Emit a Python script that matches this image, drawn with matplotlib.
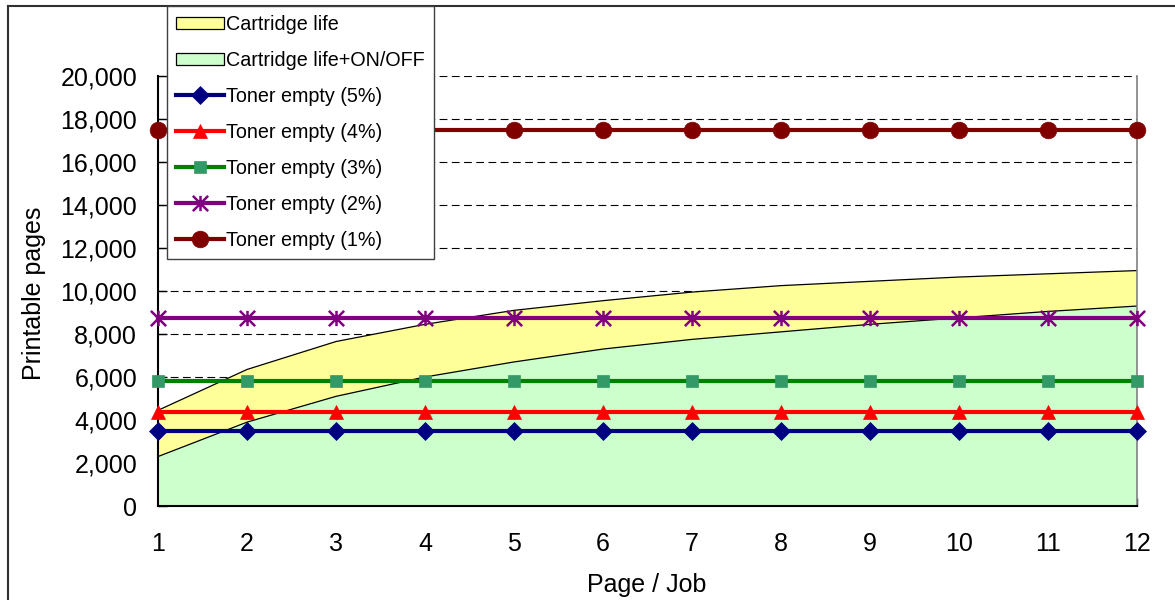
import matplotlib
matplotlib.use("Agg")
import matplotlib.pyplot as plt
from matplotlib.patches import Patch
from matplotlib.lines import Line2D
from matplotlib.path import Path
from matplotlib.ticker import FuncFormatter

plt.rcParams['font.family'] = ['Liberation Sans', 'DejaVu Sans']

# ---- data ----
pages = [1, 2, 3, 4, 5, 6, 7, 8, 9, 10, 11, 12]
cartridge_life = [4450, 6350, 7650, 8450, 9100, 9550, 9950, 10250, 10450, 10650, 10800, 10950]
cartridge_life_onoff = [2300, 3900, 5100, 6000, 6700, 7300, 7750, 8100, 8450, 8750, 9050, 9300]
toner_5 = [3500] * 12
toner_4 = [4350] * 12
toner_3 = [5800] * 12
toner_2 = [8750] * 12
toner_1 = [17500] * 12
y_ticks = [0, 2000, 4000, 6000, 8000, 10000, 12000, 14000, 16000, 18000, 20000]

W, H = 1175, 600
fig = plt.figure(figsize=(W / 100, H / 100), dpi=100)
L, R, T, B = 158, 1137, 76, 506
ax = fig.add_axes([L / W, 1 - B / H, (R - L) / W, (B - T) / H])

# chart-area border (extends past image edges)
fig.add_artist(Line2D([8 / W, 1.0], [1 - 6 / H, 1 - 6 / H], transform=fig.transFigure,
                      color='#303030', lw=1.5))
fig.add_artist(Line2D([8 / W, 8 / W], [1 - 6 / H, 0.0], transform=fig.transFigure,
                      color='#303030', lw=1.5))

# areas
ax.fill_between(pages, 0, cartridge_life, facecolor='#FFFF99', edgecolor='none', zorder=1)
ax.plot(pages, cartridge_life, color='black', lw=0.9, zorder=1.1)
ax.fill_between(pages, 0, cartridge_life_onoff, facecolor='#CCFFCC', edgecolor='none', zorder=1.2)
ax.plot(pages, cartridge_life_onoff, color='black', lw=0.9, zorder=1.3)

# star marker (X with vertical bar)
star = Path([(-1, -1), (1, 1), (-1, 1), (1, -1), (0, -1), (0, 1)],
            [Path.MOVETO, Path.LINETO, Path.MOVETO, Path.LINETO, Path.MOVETO, Path.LINETO])

lw = 3.0
series = [
    (toner_5, 'Toner empty (5%)', '#000080', 'D', '#000080', 9.5, {}),
    (toner_4, 'Toner empty (4%)', '#FF0000', '^', '#FF0000', 10, {}),
    (toner_3, 'Toner empty (3%)', '#008000', 's', '#339966', 8.5, {}),
    (toner_2, 'Toner empty (2%)', '#800080', star, '#800080', 11, {'markeredgewidth': 1.8}),
    (toner_1, 'Toner empty (1%)', '#800000', 'o', '#800000', 12, {}),
]
handles = [Patch(facecolor='#FFFF99', edgecolor='black', lw=0.9, label='Cartridge life'),
           Patch(facecolor='#CCFFCC', edgecolor='black', lw=0.9, label='Cartridge life+ON/OFF')]
for vals, lab, col, mk, mcol, ms, extra in series:
    kw = dict(color=col, lw=lw, marker=mk, markersize=ms, markerfacecolor=mcol,
              markeredgecolor=mcol, markeredgewidth=extra.get('markeredgewidth', 0.5))
    ax.plot(pages, vals, zorder=3, clip_on=False, **kw)
    handles.append(Line2D([0], [0], label=lab, **kw))

ax.set_xlim(1, 12)
ax.set_ylim(0, 20000)
ax.set_xticks(pages)
ax.set_yticks(y_ticks)
ax.yaxis.set_major_formatter(FuncFormatter(lambda v, p: f'{int(v):,}'))
ax.set_axisbelow(True)
ax.yaxis.grid(True, color='black', lw=0.8, linestyle=(0, (7, 4)))
ax.xaxis.grid(False)

ax.tick_params(axis='y', direction='in', length=6.5, width=1, labelsize=18, pad=15)
ax.tick_params(axis='x', direction='in', length=6, width=1, labelsize=18, pad=19)
for s in ['left', 'bottom']:
    ax.spines[s].set_color('black')
    ax.spines[s].set_linewidth(1.5)
ax.spines['top'].set_visible(False)
ax.spines['right'].set_color('#808080')
ax.spines['right'].set_linewidth(1.2)

fig.text(647 / W, 1 - 592 / H, 'Page / Job', fontsize=18, ha='center', va='baseline')
fig.text(41 / W, 1 - 293 / H, 'Printable pages', fontsize=18, ha='center', va='baseline',
         rotation=90, rotation_mode='anchor')

leg = fig.legend(handles=handles, loc='upper left', bbox_to_anchor=(167 / W, 1 - 6 / H),
                 bbox_transform=fig.transFigure, borderaxespad=0, fontsize=14.2,
                 frameon=True, fancybox=False, framealpha=1, edgecolor='#404040',
                 handlelength=2.45, handletextpad=0.1, labelspacing=0.86, borderpad=0.45,
                 handleheight=0.6)
leg.get_frame().set_linewidth(1.0)
leg.set_zorder(10)

fig.savefig('out.png', dpi=100)
